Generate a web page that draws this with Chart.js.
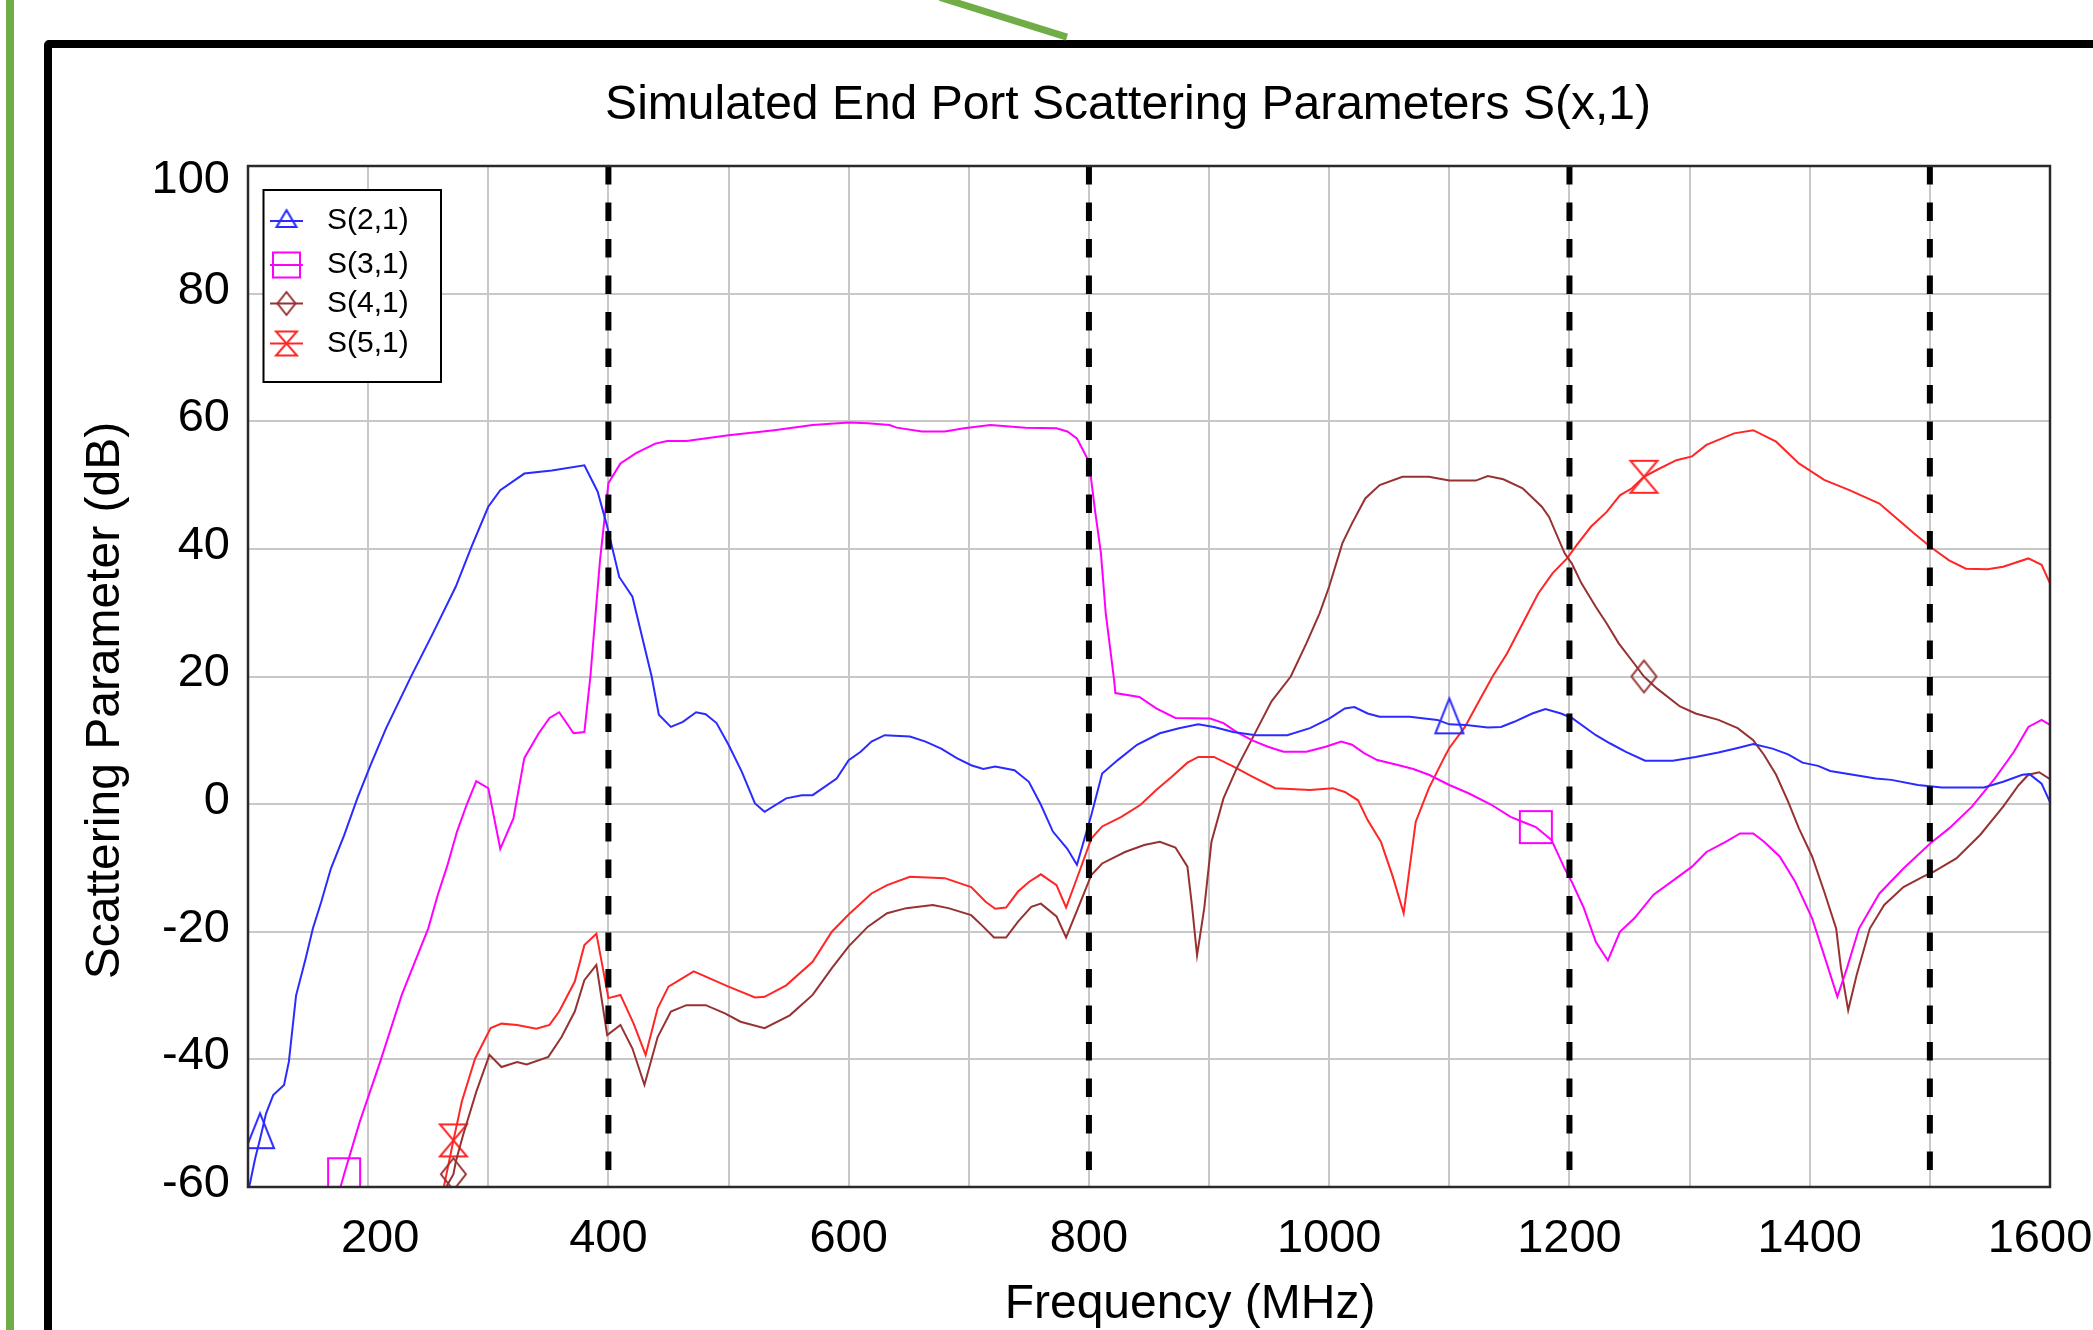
<!DOCTYPE html>
<html>
<head>
<meta charset="utf-8">
<script src="https://cdn.jsdelivr.net/npm/chart.js@4.4.1/dist/chart.umd.min.js"></script>
<style>
  html, body { margin: 0; padding: 0; background: #ffffff; overflow: hidden; }
  #wrap { position: relative; width: 2093px; height: 1330px; }
  #c { position: absolute; left: 0; top: 0; }
  .deco { position: absolute; pointer-events: none; }
</style>
</head>
<body>
<div id="wrap">
  <canvas id="c" width="2093" height="1330"></canvas>
  <div class="deco" style="left:6px;top:0;width:8px;height:1330px;background:#70AD47"></div>
  <div class="deco" style="left:44px;top:40px;width:2200px;height:1400px;border:8px solid #000;border-radius:5px;box-sizing:border-box"></div>
  <div class="deco" style="left:940px;top:-6.5px;width:133px;height:7px;background:#70AD47;transform-origin:0 50%;transform:rotate(17.3deg)"></div>
</div>
<script>
// ---------------- data ----------------
const chartTitle = 'Simulated End Port Scattering Parameters S(x,1)';
const xTitle = 'Frequency (MHz)';
const yTitle = 'Scattering Parameter (dB)';
const xMin = 100, xMax = 1600, xStep = 100;
const yMin = -60, yMax = 100, yStep = 20;
const xLabelValues = [200, 400, 600, 800, 1000, 1200, 1400, 1600];
const boundaryFreqs = [400, 800, 1200, 1500];

const seriesLabels = ['S(2,1)', 'S(3,1)', 'S(4,1)', 'S(5,1)'];

const s21Freq = [101,106,110,115,121,130,134,140,148,154,161,169,180,191,202,215,236,254,273,286,300,310,330,353,380,391,399,409,420,436,442,452,462,473,481,490,500,511,522,530,548,561,570,590,600,610,619,630,651,664,677,690,702,712,722,738,750,760,770,782,790,802,811,824,840,859,875,891,904,920,939,965,984,1000,1013,1021,1032,1042,1067,1090,1100,1114,1132,1143,1154,1169,1180,1193,1202,1222,1234,1247,1263,1286,1305,1324,1340,1353,1369,1382,1394,1407,1417,1436,1455,1468,1490,1510,1545,1561,1577,1583,1593,1600];
const s21Val  = [-60,-55.5,-52.5,-48.5,-45.6,-44.0,-40.4,-30,-24.2,-19.5,-15.3,-10.1,-4.9,0.9,6.1,11.9,20.1,26.8,34.1,40.3,46.6,49.2,51.8,52.3,53.1,49.0,43.5,35.6,32.5,20,14.0,12.1,12.9,14.4,14.1,12.7,9.3,5.1,0.1,-1.2,0.9,1.4,1.4,4.0,6.9,8.2,9.8,10.8,10.6,9.8,8.7,7.2,6.1,5.5,5.9,5.3,3.5,-0.1,-4.3,-7.0,-9.5,-1.7,4.8,6.9,9.3,11.1,11.9,12.5,12.1,11.3,10.8,10.8,11.9,13.4,15.0,15.2,14.2,13.7,13.7,13.2,12.5,12.4,12.0,12.1,12.9,14.2,14.9,14.2,13.5,10.8,9.5,8.2,6.8,6.8,7.4,8.1,8.8,9.4,8.7,7.8,6.5,6.0,5.2,4.6,4.0,3.8,3.0,2.6,2.6,3.5,4.6,4.7,3.2,0.3];
const s21Markers = [110, 1100];

const s31Freq = [177,180,193,210,228,239,250,258,266,274,282,290,300,310,321,330,342,351,359,371,380,385,393,400,410,423,439,449,465,500,538,570,600,616,634,640,661,680,696,718,747,773,782,790,800,805,810,814,821,822,842,856,872,901,912,923,936,949,962,981,997,1010,1019,1029,1040,1058,1070,1083,1100,1116,1135,1151,1164,1172,1185,1196,1202,1212,1222,1232,1242,1254,1270,1289,1302,1314,1330,1342,1353,1362,1375,1388,1402,1412,1423,1431,1441,1458,1478,1500,1516,1535,1554,1570,1582,1593,1600];
const s31Val  = [-60,-58.0,-49.8,-40.4,-29.9,-24.7,-19.5,-14.2,-9.6,-4.3,-0.1,3.6,2.5,-7.0,-2.2,7.2,11.1,13.5,14.4,11.1,11.3,20,38.2,50.3,53.4,55.0,56.5,56.9,56.9,57.8,58.6,59.4,59.8,59.7,59.4,59.0,58.4,58.4,58.9,59.4,59.0,58.9,58.4,57.3,53.7,46.1,39.3,29.9,19.4,17.4,16.8,15.0,13.5,13.4,12.7,11.3,10.0,9.0,8.2,8.2,9.0,9.8,9.3,8.0,6.9,6.1,5.5,4.6,3.0,1.7,-0.1,-2.0,-3.0,-3.6,-5.6,-10.1,-12.2,-16.3,-21.6,-24.5,-20.0,-17.9,-14.2,-11.6,-9.8,-7.5,-5.9,-4.6,-4.6,-5.9,-8.2,-12.2,-17.9,-23.7,-30.2,-25.7,-19.5,-14.0,-10.1,-6.2,-3.8,-0.4,4.0,8.2,12.1,13.2,12.4];
const s31Markers = [180, 1172];

const s41Freq = [265,271,273,279,290,301,311,324,332,350,361,372,380,390,399,410,420,430,441,452,465,481,497,510,530,551,570,586,600,616,632,648,670,683,702,712,721,731,741,752,760,773,781,792,802,811,830,846,859,872,882,886,890,896,902,912,923,936,952,968,981,992,1000,1011,1019,1030,1042,1061,1083,1100,1122,1132,1145,1161,1177,1183,1196,1202,1210,1222,1231,1241,1254,1262,1273,1292,1305,1324,1340,1353,1362,1372,1382,1391,1402,1412,1422,1426,1432,1439,1450,1462,1478,1494,1503,1522,1542,1561,1574,1582,1591,1600];
const s41Val  = [-60,-58.0,-56.0,-51.9,-45.1,-39.3,-41.2,-40.4,-40.8,-39.6,-36.5,-32.5,-27.6,-25.2,-36.2,-34.6,-38.3,-44.0,-36.5,-32.5,-31.5,-31.5,-32.8,-34.1,-35.1,-33.1,-29.9,-25.7,-22.3,-19.2,-17.1,-16.3,-15.8,-16.3,-17.4,-19.2,-20.9,-20.9,-18.4,-16.1,-15.6,-17.6,-20.9,-15.8,-11.1,-9.3,-7.5,-6.4,-5.9,-6.8,-9.8,-16.3,-23.7,-16.3,-5.9,0.9,5.6,10.3,16.1,20.0,25.2,29.9,34.1,40.9,44.0,47.9,50.0,51.3,51.3,50.7,50.7,51.4,50.9,49.5,46.6,45.0,39.3,37.7,34.6,30.9,28.3,25.2,22.0,20.0,18.1,15.3,14.2,13.2,11.9,10.0,7.7,4.6,0.4,-3.8,-8.2,-13.7,-19.5,-25.7,-32.3,-26.8,-19.5,-15.8,-13.0,-11.4,-10.6,-8.5,-4.8,-0.4,3.0,4.6,5.0,3.9];
const s41Markers = [271, 1262];

const s51Freq = [263,271,278,289,302,311,324,340,351,359,372,380,390,400,410,421,431,441,450,471,500,522,530,548,570,586,600,619,632,651,680,702,714,722,731,741,750,760,773,781,792,802,811,827,843,856,869,882,891,904,920,936,955,984,1003,1013,1024,1032,1043,1053,1062,1072,1083,1096,1100,1113,1126,1136,1148,1161,1174,1186,1198,1206,1218,1231,1242,1252,1262,1273,1289,1302,1314,1337,1353,1372,1391,1412,1433,1458,1471,1487,1502,1516,1530,1548,1561,1582,1593,1600];
const s51Val  = [-60,-52.7,-46.6,-39.9,-35.1,-34.4,-34.6,-35.2,-34.6,-32.5,-27.8,-22.1,-20.3,-30.4,-29.9,-34.4,-39.3,-32.0,-28.6,-26.2,-28.6,-30.3,-30.2,-28.4,-24.7,-20.0,-17.3,-14.0,-12.7,-11.4,-11.6,-13.0,-15.3,-16.4,-16.2,-13.7,-12.2,-11.0,-12.7,-16.2,-10.6,-5.4,-3.5,-2.0,-0.1,2.2,4.3,6.5,7.4,7.4,5.9,4.3,2.5,2.2,2.5,1.9,0.6,-2.5,-5.9,-11.4,-17.1,-2.8,2.5,7.4,8.8,12.1,16.6,20,23.6,28.3,33.0,36.2,38.5,40.6,43.5,45.8,48.4,49.5,51.3,52.4,53.9,54.5,56.3,58.1,58.6,56.8,53.4,50.8,49.2,47.1,45.0,42.4,40.1,38.2,36.9,36.8,37.2,38.5,37.5,34.6];
const s51Markers = [271, 1262];

// ---------------- styling ----------------
const FONT = "'Liberation Sans', Arial, Helvetica, sans-serif";
const COLORS = ['#2b2bff', '#ff00ff', '#963232', '#ff2626'];

function markerCanvas(kind, color, w, h, anchor) {
  // anchor: fraction from top where the data point sits (0.5 = centred)
  const pad = 3;
  const half = Math.max(anchor, 1 - anchor) * h;
  const cv = document.createElement('canvas');
  cv.width = Math.ceil(w + 2 * pad);
  cv.height = Math.ceil(2 * half + 2 * pad);
  const g = cv.getContext('2d');
  const cx = cv.width / 2, cy = cv.height / 2;
  const top = cy - anchor * h, bot = top + h, l = cx - w / 2, r = cx + w / 2;
  g.strokeStyle = color; g.lineWidth = 2; g.lineJoin = 'miter';
  g.beginPath();
  if (kind === 'triangle') {
    g.moveTo(cx, top); g.lineTo(r, bot); g.lineTo(l, bot); g.closePath();
  } else if (kind === 'square') {
    g.rect(l, top, w, h);
  } else if (kind === 'diamond') {
    g.moveTo(cx, top); g.lineTo(r, (top + bot) / 2); g.lineTo(cx, bot); g.lineTo(l, (top + bot) / 2); g.closePath();
  } else if (kind === 'hourglass') {
    g.moveTo(l, top); g.lineTo(r, top); g.lineTo(l, bot); g.lineTo(r, bot); g.closePath();
  }
  g.stroke();
  return cv;
}

const seriesFreq = [s21Freq, s31Freq, s41Freq, s51Freq];
const seriesVal = [s21Val, s31Val, s41Val, s51Val];
const seriesMarkers = [s21Markers, s31Markers, s41Markers, s51Markers];
const markerKinds = ['triangle', 'square', 'diamond', 'hourglass'];
const plotMarkerSize = [[28, 35, 0.74], [32, 32, 0.5], [25, 32, 0.5], [27, 32, 0.5]];
const legendMarkerSize = [[20, 17, 0.64], [27, 25, 0.5], [18, 23, 0.5], [21, 24, 0.5]];

const series = seriesLabels.map((label, i) => ({
  label,
  color: COLORS[i],
  freq: seriesFreq[i],
  val: seriesVal[i],
  markers: seriesMarkers[i],
  img: markerCanvas(markerKinds[i], COLORS[i], ...plotMarkerSize[i]),
  legendImg: markerCanvas(markerKinds[i], COLORS[i], ...legendMarkerSize[i])
}));

const curveDatasets = series.map(s => ({
  label: s.label,
  data: s.freq.map((f, k) => ({ x: f, y: s.val[k] })),
  borderColor: s.color,
  backgroundColor: s.color,
  borderWidth: 2,
  tension: 0,
  fill: false,
  pointStyle: s.img,
  pointRadius: s.freq.map(f => s.markers.includes(f) ? 12 : 0),
  pointHoverRadius: 0,
  order: 1
}));

const boundaryDatasets = boundaryFreqs.map(f => ({
  label: 'band edge ' + f,
  data: [{ x: f, y: yMax }, { x: f, y: yMin }],
  borderColor: '#000000',
  borderWidth: 6,
  borderDash: [18.5, 18],
  pointRadius: 0,
  tension: 0,
  fill: false,
  order: 0
}));

// ---------------- plugins ----------------
const titleShift = { x: [41, 0], y: [0, 24] };
// small per-label nudges (pixels) so edge labels sit as in the original figure
const labelNudge = { x: { '200': [12, 0], '1600': [-10, 0] }, y: { '100': [0, 17] } };

const layoutTweaks = {
  id: 'layoutTweaks',
  afterLayout(chart) {
    if (chart.titleBlock) { chart.titleBlock.left -= 21; chart.titleBlock.right -= 21; }
    for (const id of ['x', 'y']) {
      const sc = chart.scales[id];
      if (sc && !sc._shiftWrapped) {
        const orig = sc.drawTitle;
        const [dx, dy] = titleShift[id];
        sc.drawTitle = function () {
          const b = [this.left, this.right, this.top, this.bottom];
          this.left += dx; this.right += dx; this.top += dy; this.bottom += dy;
          orig.call(this);
          [this.left, this.right, this.top, this.bottom] = b;
        };
        const origItems = sc.getLabelItems;
        const nudges = labelNudge[id];
        sc.getLabelItems = function (area) {
          const items = origItems.call(this, area);
          if (!items._nudged) {
            for (const it of items) {
              const n = nudges[String(it.label)];
              if (n && it.options && it.options.translation) {
                it.options.translation = [it.options.translation[0] + n[0], it.options.translation[1] + n[1]];
              }
            }
            items._nudged = true;
          }
          return items;
        };
        sc._shiftWrapped = true;
      }
    }
  }
};

const plotFrame = {
  id: 'plotFrame',
  afterDatasetsDraw(chart) {
    const { ctx, chartArea: a } = chart;
    ctx.save();
    ctx.strokeStyle = '#2a2a2a';
    ctx.lineWidth = 2.5;
    ctx.strokeRect(a.left, a.top, a.right - a.left, a.bottom - a.top);
    ctx.restore();
  }
};

const legendRows = [55, 99, 137.5, 177.5];
const insetLegend = {
  id: 'insetLegend',
  afterDatasetsDraw(chart) {
    const { ctx, chartArea: a } = chart;
    ctx.save();
    const bx = a.left + 15.5, by = a.top + 24, bw = 177.5, bh = 192;
    ctx.fillStyle = '#ffffff';
    ctx.fillRect(bx, by, bw, bh);
    ctx.strokeStyle = '#000000';
    ctx.lineWidth = 2;
    ctx.strokeRect(bx, by, bw, bh);
    ctx.font = '30px ' + FONT;
    ctx.textAlign = 'left';
    ctx.textBaseline = 'middle';
    series.forEach((s, i) => {
      const cy = a.top + legendRows[i];
      ctx.strokeStyle = s.color;
      ctx.lineWidth = 1.8;
      ctx.beginPath();
      ctx.moveTo(a.left + 22, cy);
      ctx.lineTo(a.left + 55, cy);
      ctx.stroke();
      ctx.drawImage(s.legendImg, a.left + 38.5 - s.legendImg.width / 2, cy - s.legendImg.height / 2);
      ctx.fillStyle = '#000000';
      ctx.fillText(s.label, a.left + 79, cy);
    });
    ctx.restore();
  }
};

// ---------------- chart ----------------
new Chart(document.getElementById('c'), {
  type: 'line',
  data: { datasets: [...boundaryDatasets, ...curveDatasets] },
  options: {
    responsive: false,
    animation: false,
    events: [],
    layout: { padding: { left: 0, right: 43, top: 0, bottom: 0 }, autoPadding: false },
    plugins: {
      legend: { display: false },
      tooltip: { enabled: false },
      title: {
        display: true,
        text: chartTitle,
        color: '#000000',
        fullSize: false,
        font: { family: FONT, size: 48, weight: 'normal', lineHeight: 1.2 },
        padding: { top: 77, bottom: 31.4 }
      }
    },
    scales: {
      x: {
        type: 'linear',
        min: xMin, max: xMax,
        afterFit: s => { s.height = 143; s.paddingLeft = 0; s.paddingRight = 0; },
        grid: { color: '#c8c8c8', lineWidth: 2, drawTicks: false },
        border: { display: false },
        ticks: {
          stepSize: xStep,
          autoSkip: false,
          maxRotation: 0,
          padding: 24,
          color: '#000000',
          font: { family: FONT, size: 47 },
          callback: v => xLabelValues.includes(v) ? String(v) : ''
        },
        title: {
          display: true, text: xTitle, color: '#000000',
          font: { family: FONT, size: 48, lineHeight: 1 },
          padding: { top: 0, bottom: 1 }
        }
      },
      y: {
        type: 'linear',
        min: yMin, max: yMax,
        afterFit: s => { s.width = 248; },
        grid: { color: '#c8c8c8', lineWidth: 2, drawTicks: false },
        border: { display: false },
        ticks: {
          stepSize: yStep,
          padding: 18,
          labelOffset: -3,
          color: '#000000',
          font: { family: FONT, size: 47 }
        },
        title: {
          display: true, text: yTitle, color: '#000000',
          font: { family: FONT, size: 48, lineHeight: 1 },
          padding: { top: 82, bottom: 0 }
        }
      }
    }
  },
  plugins: [layoutTweaks, plotFrame, insetLegend]
});
</script>
</body>
</html>
